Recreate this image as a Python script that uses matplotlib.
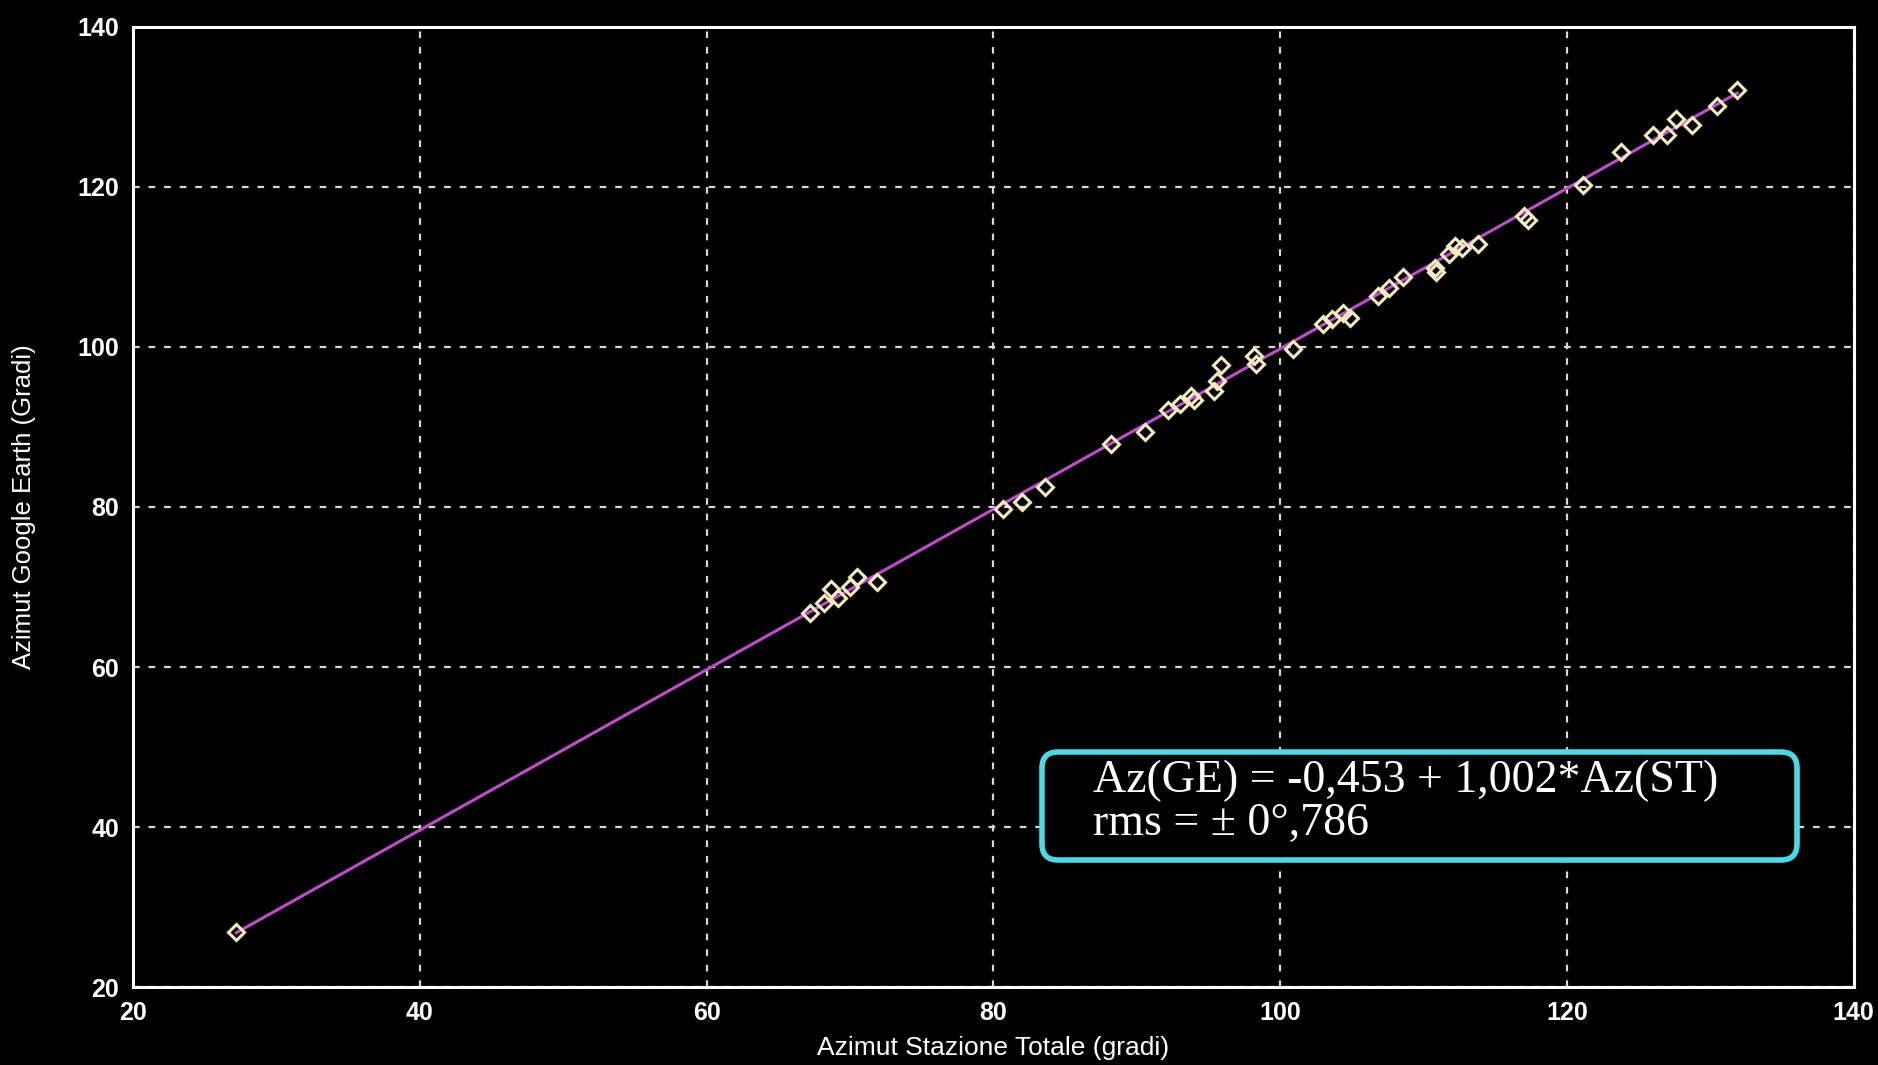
"""
Azimut Google Earth vs Azimut Stazione Totale - scatter with regression line
"""

import numpy as np
import matplotlib

matplotlib.use("Agg")
import matplotlib.pyplot as plt
from matplotlib.patches import FancyBboxPatch

az_st = [27.2, 67.2, 68.2, 68.7, 69.2, 70.0, 70.5, 71.9, 80.7, 82.0, 83.6,
         88.2, 90.6, 92.2, 93.0, 93.8, 94.0, 95.4, 95.6, 95.9, 98.2, 98.3,
         100.9, 103.0, 103.6, 104.4, 104.9, 106.8, 107.6, 108.6, 110.8,
         110.9, 111.8, 112.2, 112.7, 113.8, 117.0, 117.3, 121.1, 123.8,
         126.0, 127.0, 127.6, 128.7, 130.5, 131.9]
az_ge = [26.9, 66.8, 68.0, 69.7, 68.6, 70.0, 71.3, 70.6, 79.8, 80.6, 82.5,
         87.8, 89.4, 92.1, 92.9, 93.8, 93.3, 94.5, 95.7, 97.7, 98.9, 97.8,
         99.7, 102.9, 103.5, 104.2, 103.6, 106.3, 107.4, 108.7, 109.8,
         109.3, 111.6, 112.6, 112.4, 112.8, 116.4, 115.9, 120.2, 124.4,
         126.4, 126.4, 128.5, 127.7, 130.1, 132.1]

# regression coefficients printed in the box
intercept = -0.453
slope = 1.002

x_ticks = [20, 40, 60, 80, 100, 120, 140]
y_ticks = [20, 40, 60, 80, 100, 120, 140]

fig = plt.figure(figsize=(18.78, 10.65), dpi=100, facecolor="black")
ax = fig.add_axes([0.0708, 0.073, 0.9162, 0.902])
ax.set_facecolor("black")

# fit line across the data range
xs = np.array([min(az_st), max(az_st)])
ax.plot(xs, intercept + slope * xs, color="#c04ccc", linewidth=2.2, zorder=2)

ax.plot(az_st, az_ge, linestyle="none", marker="D", markersize=8.5,
        markerfacecolor="none", markeredgecolor="#f4ecc0",
        markeredgewidth=2.2, zorder=3)

ax.set_xlim(20, 140)
ax.set_ylim(20, 140)
ax.set_xticks(x_ticks)
ax.set_yticks(y_ticks)
ax.grid(True, color="#d8d8d8", linestyle=(0, (3, 4)), linewidth=1.6)
ax.set_axisbelow(True)

for side in ["left", "right", "top", "bottom"]:
    ax.spines[side].set_color("white")
    ax.spines[side].set_linewidth(2.2)

ax.tick_params(colors="white", length=0, pad=10)
for lab in ax.get_xticklabels() + ax.get_yticklabels():
    lab.set_fontfamily("Liberation Sans")
    lab.set_fontweight("bold")
    lab.set_fontsize(18)
    lab.set_color("white")

ax.set_xlabel("Azimut Stazione Totale (gradi)", color="white",
              fontfamily="Liberation Sans", fontsize=19, labelpad=8)
ax.set_ylabel("Azimut Google Earth (Gradi)", color="white",
              fontfamily="Liberation Sans", fontsize=18.5, labelpad=30)

# equation box
box = FancyBboxPatch((10.42, 2.05), 7.55, 1.08,
                     boxstyle="round,pad=0,rounding_size=0.16",
                     transform=fig.dpi_scale_trans,
                     facecolor="black", edgecolor="#46dce6", linewidth=4,
                     zorder=5)
fig.patches.append(box)
fig.text(0.582, 0.2667, "Az(GE) = -0,453 + 1,002*Az(ST)", color="white",
         fontfamily="Liberation Serif", fontsize=33, va="center", ha="left",
         zorder=6)
fig.text(0.582, 0.2263, "rms = \u00b1 0\u00b0,786", color="white",
         fontfamily="Liberation Serif", fontsize=33, va="center", ha="left",
         zorder=6)

fig.savefig("out.png", dpi=100, facecolor="black")
